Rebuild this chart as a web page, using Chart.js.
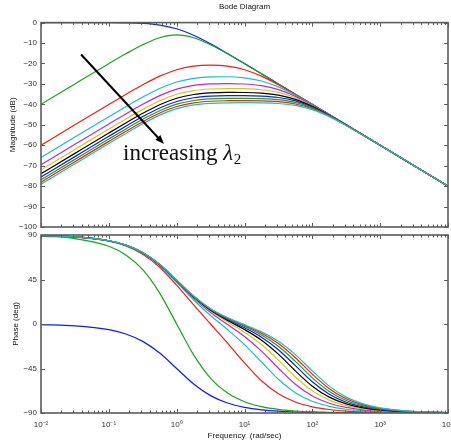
<!DOCTYPE html>
<html>
<head>
<meta charset="utf-8">
<script src="https://cdn.jsdelivr.net/npm/chart.js@4/dist/chart.umd.min.js"></script>
<style>
  body { margin: 0; background: #fff; width: 451px; height: 445px; overflow: hidden; position: relative; }
  canvas { position: absolute; left: 0; }
  #mag { top: 0; }
  #phase { top: 229px; }
</style>
</head>
<body>
<canvas id="mag" width="451" height="233"></canvas>
<canvas id="phase" width="451" height="216"></canvas>
<script>
// G(s) = s / ((s + 1)(s + lambda2)), one curve per lambda2
var lambda2 = [0, 1, 10, 20, 30, 40, 50, 60, 70, 80, 90];
var lineColors = ['#0a1cff', '#12a812', '#ff1a0a', '#10c4c4', '#cc22cc', '#cccc10', '#000000',
                  '#0a1cff', '#12a812', '#ff1a0a', '#10c4c4'];

// frequency grid (rad/sec)
var freqs = [0.01, 0.0316, 0.1, 0.178, 0.316, 0.562, 1, 1.78, 3.16, 5.62, 10, 17.8, 31.6, 56.2,
             100, 178, 316, 562, 1000, 3162, 10000];

var freqTicks = [0.01, 0.1, 1, 10, 100, 1000, 10000];
var freqTickLabels = ['10\u207B\u00B2', '10\u207B\u00B9', '10\u2070', '10\u00B9', '10\u00B2', '10\u00B3', '10\u2074'];

// magnitude (dB)
var magL0  = [0, 0, -0.04, -0.14, -0.41, -1.19, -3.01, -6.19, -10.41, -15.14, -20.04, -25.01, -30.0, -35.0, -40.0, -45.0, -50.0, -55.0, -60.0, -70.0, -80.0];
var magL1  = [-40.0, -30.01, -20.09, -15.27, -10.83, -7.39, -6.02, -7.39, -10.83, -15.27, -20.09, -25.03, -30.01, -35.0, -40.0, -45.0, -50.0, -55.0, -60.0, -70.0, -80.0];
var magL10 = [-60.0, -50.0, -40.04, -35.14, -30.42, -26.21, -23.05, -21.33, -20.83, -21.33, -23.05, -26.21, -30.42, -35.14, -40.04, -45.01, -50.0, -55.0, -60.0, -70.0, -80.0];
var magL20 = [-66.02, -56.02, -46.06, -41.16, -36.44, -32.22, -29.04, -27.25, -26.54, -26.49, -27.03, -28.56, -31.47, -35.52, -40.17, -45.06, -50.02, -55.01, -60.0, -70.0, -80.0];
var magL30 = [-69.54, -59.55, -49.59, -44.68, -39.96, -35.74, -32.56, -30.75, -30.0, -29.83, -30.04, -30.86, -32.79, -36.09, -40.37, -45.12, -50.04, -55.01, -60.0, -70.0, -80.0];
var magL40 = [-72.04, -62.05, -52.08, -47.18, -42.46, -38.24, -35.05, -33.24, -32.48, -32.26, -32.35, -32.84, -34.15, -36.78, -40.65, -45.21, -50.07, -55.02, -60.01, -70.0, -80.0];
var magL50 = [-73.98, -63.98, -54.02, -49.11, -44.39, -40.17, -36.99, -35.18, -34.41, -34.17, -34.19, -34.51, -35.45, -37.53, -40.97, -45.33, -50.11, -55.03, -60.01, -70.0, -80.0];
var magL60 = [-75.56, -65.57, -55.61, -50.70, -45.98, -41.76, -38.58, -36.76, -35.99, -35.74, -35.73, -35.94, -36.63, -38.30, -41.34, -45.47, -50.15, -55.05, -60.02, -70.0, -80.0];
var magL70 = [-76.90, -66.91, -56.95, -52.04, -47.32, -43.10, -39.91, -38.10, -37.33, -37.07, -37.03, -37.19, -37.71, -39.06, -41.73, -45.63, -50.21, -55.07, -60.02, -70.0, -80.0];
var magL80 = [-78.06, -68.07, -58.11, -53.20, -48.48, -44.26, -41.07, -39.26, -38.48, -38.22, -38.17, -38.29, -38.70, -39.81, -42.15, -45.80, -50.27, -55.09, -60.03, -70.0, -80.0];
var magL90 = [-79.09, -69.09, -59.13, -54.22, -49.50, -45.28, -42.10, -40.28, -39.50, -39.24, -39.18, -39.27, -39.59, -40.52, -42.58, -45.99, -50.34, -55.11, -60.04, -70.0, -80.0];

// phase (deg)
var phL0  = [-0.57, -1.81, -5.71, -10.08, -17.55, -29.36, -45.0, -60.64, -72.45, -79.92, -84.29, -86.78, -88.19, -88.98, -89.43, -89.68, -89.82, -89.90, -89.94, -89.98, -89.99];
var phL1  = [88.85, 86.38, 78.58, 69.84, 54.9, 31.28, 0, -31.28, -54.9, -69.84, -78.58, -83.56, -86.38, -87.96, -88.86, -89.36, -89.64, -89.80, -89.89, -89.96, -89.99];
var phL10 = [89.37, 88.01, 83.72, 78.90, 70.64, 57.42, 39.29, 19.28, 0, -19.28, -39.29, -57.42, -70.64, -78.90, -83.72, -86.46, -88.01, -88.88, -89.37, -89.8, -89.93];
var phL20 = [89.40, 88.10, 84.00, 79.41, 71.54, 59.03, 42.14, 24.28, 8.56, -5.62, -20.86, -38.42, -55.88, -69.40, -78.12, -83.26, -86.20, -87.86, -88.79, -89.62, -89.88];
var phL30 = [89.41, 88.13, 84.10, 79.58, 71.85, 59.57, 43.09, 25.97, 11.53, -0.54, -12.72, -27.44, -44.70, -60.90, -72.73, -80.10, -84.40, -86.85, -88.22, -89.44, -89.82];
var phL40 = [89.41, 88.14, 84.15, 79.67, 72.00, 59.84, 43.57, 26.82, 13.03, 2.08, -8.33, -20.74, -36.52, -53.56, -67.63, -77.00, -82.61, -85.83, -87.65, -89.26, -89.76];
var phL50 = [89.42, 88.15, 84.17, 79.72, 72.09, 60.00, 43.85, 27.32, 13.93, 3.66, -5.60, -16.35, -30.50, -47.35, -62.86, -73.97, -80.84, -84.82, -87.08, -89.07, -89.70];
var phL60 = [89.42, 88.16, 84.19, 79.75, 72.15, 60.10, 44.05, 27.66, 14.53, 4.73, -3.75, -13.28, -25.98, -42.12, -58.47, -71.03, -79.08, -83.81, -86.51, -88.89, -89.65];
var phL70 = [89.42, 88.16, 84.21, 79.77, 72.19, 60.18, 44.18, 27.91, 14.96, 5.49, -2.42, -11.03, -22.50, -37.76, -54.44, -68.20, -77.34, -82.80, -85.94, -88.71, -89.59];
var phL80 = [89.42, 88.17, 84.22, 79.79, 72.22, 60.24, 44.28, 28.09, 15.29, 6.06, -1.42, -9.31, -19.76, -34.08, -50.77, -65.46, -75.62, -81.80, -85.37, -88.53, -89.53];
var phL90 = [89.42, 88.17, 84.23, 79.81, 72.25, 60.28, 44.36, 28.23, 15.54, 6.50, -0.63, -7.96, -17.55, -30.98, -47.44, -62.84, -73.93, -80.81, -84.80, -88.35, -89.47];

var magSeries = [magL0, magL1, magL10, magL20, magL30, magL40, magL50, magL60, magL70, magL80, magL90];
var phaseSeries = [phL0, phL1, phL10, phL20, phL30, phL40, phL50, phL60, phL70, phL80, phL90];

// arrow + label on the magnitude plot, in (rad/sec, dB)
var arrowFrom = [0.039, -15.6];
var arrowTo = [0.65, -59.4];
var noteAt = [0.162, -67.4];

var axisFont = { family: 'Liberation Sans, Arial, sans-serif', size: 8 };
var textColor = '#333';

function minus(v) {
  return v < 0 ? '\u2212' + Math.abs(v) : '' + v;
}

function makeDatasets(series) {
  return series.map(function (vals, i) {
    return {
      label: '\u03BB2 = ' + lambda2[i],
      data: vals.map(function (v, j) { return { x: freqs[j], y: v }; }),
      borderColor: lineColors[i],
      borderWidth: 1.2,
      pointRadius: 0,
      fill: false,
      cubicInterpolationMode: 'monotone',
      order: series.length - i
    };
  });
}

// box around the axes with inward tick marks, like the usual bode plot
var frameTicks = {
  id: 'frameTicks',
  afterDraw: function (chart) {
    var ctx = chart.ctx, a = chart.chartArea;
    var xs = chart.scales.x, ys = chart.scales.y;
    ctx.save();
    ctx.strokeStyle = '#5c5c5c';
    ctx.lineWidth = 1;
    ctx.beginPath();
    for (var e = -2; e <= 4; e++) {
      for (var m = 1; m < 10; m++) {
        var v = m * Math.pow(10, e);
        if (v > 10000) break;
        var px = Math.round(xs.getPixelForValue(v)) + 0.5;
        var len = m === 1 ? 4 : 2.5;
        ctx.moveTo(px, a.top); ctx.lineTo(px, a.top + len);
        ctx.moveTo(px, a.bottom); ctx.lineTo(px, a.bottom - len);
      }
    }
    ys.ticks.forEach(function (t) {
      var py = Math.round(ys.getPixelForValue(t.value)) + 0.5;
      ctx.moveTo(a.left, py); ctx.lineTo(a.left + 4, py);
      ctx.moveTo(a.right, py); ctx.lineTo(a.right - 4, py);
    });
    ctx.stroke();
    ctx.lineWidth = 1.6;
    ctx.strokeRect(a.left, a.top, a.right - a.left, a.bottom - a.top);
    ctx.restore();
  }
};

var lambdaNote = {
  id: 'lambdaNote',
  afterDraw: function (chart) {
    var ctx = chart.ctx;
    var xs = chart.scales.x, ys = chart.scales.y;
    var x0 = xs.getPixelForValue(arrowFrom[0]), y0 = ys.getPixelForValue(arrowFrom[1]);
    var x1 = xs.getPixelForValue(arrowTo[0]), y1 = ys.getPixelForValue(arrowTo[1]);
    var ang = Math.atan2(y1 - y0, x1 - x0);
    var head = 9, half = 3.5;
    ctx.save();
    ctx.strokeStyle = '#000';
    ctx.fillStyle = '#000';
    ctx.lineWidth = 2;
    ctx.beginPath();
    ctx.moveTo(x0, y0);
    ctx.lineTo(x1 - Math.cos(ang) * head * 0.8, y1 - Math.sin(ang) * head * 0.8);
    ctx.stroke();
    ctx.beginPath();
    ctx.moveTo(x1, y1);
    ctx.lineTo(x1 - Math.cos(ang) * head - Math.sin(ang) * half, y1 - Math.sin(ang) * head + Math.cos(ang) * half);
    ctx.lineTo(x1 - Math.cos(ang) * head + Math.sin(ang) * half, y1 - Math.sin(ang) * head - Math.cos(ang) * half);
    ctx.closePath();
    ctx.fill();

    var tx = xs.getPixelForValue(noteAt[0]), ty = ys.getPixelForValue(noteAt[1]);
    ctx.textBaseline = 'alphabetic';
    ctx.textAlign = 'left';
    ctx.fillStyle = '#111';
    ctx.font = '23px "Liberation Serif", "DejaVu Serif", serif';
    ctx.fillText('increasing', tx, ty);
    var w = ctx.measureText('increasing ').width;
    ctx.font = 'italic 23px "Liberation Serif", "DejaVu Serif", serif';
    ctx.fillText('\u03BB', tx + w, ty);
    var wl = ctx.measureText('\u03BB').width;
    ctx.font = '15px "Liberation Serif", "DejaVu Serif", serif';
    ctx.fillText('2', tx + w + wl + 0.5, ty + 4);
    ctx.restore();
  }
};

function freqAxis(showLabels, height) {
  return {
    type: 'logarithmic',
    min: 0.01,
    max: 10000,
    grid: { display: false, drawTicks: false },
    border: { display: false },
    afterBuildTicks: function (s) {
      s.ticks = freqTicks.map(function (v) { return { value: v }; });
    },
    ticks: {
      display: showLabels,
      autoSkip: false,
      maxRotation: 0,
      padding: 7,
      color: textColor,
      font: axisFont,
      callback: function (v) {
        var k = freqTicks.indexOf(v);
        return k >= 0 ? freqTickLabels[k] : '';
      }
    },
    title: {
      display: showLabels,
      text: 'Frequency  (rad/sec)',
      color: '#111',
      font: axisFont,
      padding: { top: 0, bottom: 4 }
    },
    afterFit: function (s) {
      s.height = height;
      s.paddingLeft = 0;
      s.paddingRight = 0;
    }
  };
}

function valueAxis(min, max, step, label, titlePad) {
  return {
    min: min,
    max: max,
    grid: { display: false, drawTicks: false },
    border: { display: false },
    ticks: {
      stepSize: step,
      padding: 4,
      color: textColor,
      font: axisFont,
      callback: function (v) { return minus(v); }
    },
    title: {
      display: true,
      text: label,
      color: '#111',
      font: axisFont,
      padding: { top: titlePad, bottom: 0 }
    },
    afterFit: function (s) {
      s.width = 41;
      s.paddingTop = 0;
      s.paddingBottom = 0;
    }
  };
}

Chart.defaults.font.family = 'Liberation Sans, Arial, sans-serif';

new Chart(document.getElementById('mag'), {
  type: 'line',
  data: { datasets: makeDatasets(magSeries) },
  options: {
    responsive: false,
    animation: false,
    devicePixelRatio: 1,
    layout: { padding: { top: 0, right: 3, bottom: 0, left: 0 } },
    plugins: {
      legend: { display: false },
      tooltip: { enabled: false },
      title: {
        display: true,
        text: 'Bode Diagram',
        fullSize: false,
        color: '#111',
        font: { family: 'Liberation Sans, Arial, sans-serif', size: 8, weight: 'normal' },
        padding: { top: 2, bottom: 11 }
      }
    },
    scales: {
      x: freqAxis(false, 6),
      y: valueAxis(-100, 0, 10, 'Magnitude (dB)', 8)
    }
  },
  plugins: [frameTicks, lambdaNote]
});

new Chart(document.getElementById('phase'), {
  type: 'line',
  data: { datasets: makeDatasets(phaseSeries) },
  options: {
    responsive: false,
    animation: false,
    devicePixelRatio: 1,
    layout: { padding: { top: 6, right: 3, bottom: 0, left: 0 } },
    plugins: {
      legend: { display: false },
      tooltip: { enabled: false }
    },
    scales: {
      x: freqAxis(true, 32),
      y: valueAxis(-90, 90, 45, 'Phase (deg)', 11)
    }
  },
  plugins: [frameTicks]
});
</script>
</body>
</html>
